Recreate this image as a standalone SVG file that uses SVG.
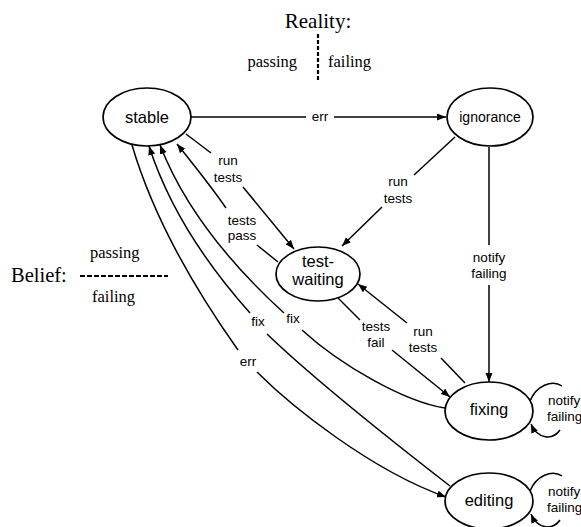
<svg xmlns="http://www.w3.org/2000/svg" width="581" height="527" viewBox="0 0 581 527">
<style>
.node ellipse{fill:#fff;stroke:#000;stroke-width:1.7}
.nl{font-family:"Liberation Sans",Arial,sans-serif;font-size:16.5px;text-anchor:middle;fill:#000}
.el{font-family:"Liberation Sans",Arial,sans-serif;font-size:13.5px;text-anchor:middle;fill:#000}
.sf{font-family:"Liberation Serif","Times New Roman",serif;fill:#000}
#connectors path{fill:none;stroke:#000;stroke-width:1.5}
.dash{stroke:#000;stroke-width:2.2;stroke-dasharray:4 2}
</style>
<defs>
<marker id="ah" markerUnits="userSpaceOnUse" markerWidth="10" markerHeight="8" refX="9" refY="3.5" orient="auto">
<path d="M0,0 L9,3.5 L0,7 z" fill="#000"/>
</marker>
</defs>
<rect width="581" height="527" fill="#fff"/>

<g id="legend">
<text class="sf" x="318" y="28" font-size="21" text-anchor="middle">Reality:</text>
<line class="dash" x1="318" y1="34" x2="318" y2="81"/>
<text class="sf" x="297" y="67" font-size="16.5" text-anchor="end">passing</text>
<text class="sf" x="328" y="67" font-size="16.5">failing</text>
<text class="sf" x="11" y="282" font-size="20.5">Belief:</text>
<line class="dash" x1="80" y1="276" x2="168" y2="276" style="stroke-dasharray:5 2"/>
<text class="sf" x="90" y="258" font-size="16.5">passing</text>
<text class="sf" x="92" y="302" font-size="16.5">failing</text>
</g>

<g id="connectors">
<!-- err: stable -> ignorance -->
<path d="M191,117 H306"/>
<path d="M334,117 H446" marker-end="url(#ah)"/>
<text class="el" x="320" y="121">err</text>
<!-- run tests: stable -> test-waiting -->
<path d="M186,134 L211,153"/>
<path d="M243,187 L294,249" marker-end="url(#ah)"/>
<text class="el" x="228" y="165">run</text>
<text class="el" x="228" y="182">tests</text>
<!-- tests pass: test-waiting -> stable -->
<path d="M278,262 L257,245"/>
<path d="M226,208 C210,185 194,165 177,144" marker-end="url(#ah)"/>
<text class="el" x="242" y="225">tests</text>
<text class="el" x="242" y="240">pass</text>
<!-- fix: fixing -> stable -->
<path d="M445,408 C405,402 340,365 302,330"/>
<path d="M284,313 Q193,230 160,145" marker-end="url(#ah)"/>
<text class="el" x="293" y="323">fix</text>
<!-- fix: editing -> stable -->
<path d="M450,486 C410,455 320,385 267,334"/>
<path d="M250,313 Q176,230 149,146" marker-end="url(#ah)"/>
<text class="el" x="258" y="326">fix</text>
<!-- err: stable -> editing -->
<path d="M132,145 Q160,240 238,350"/>
<path d="M257,372 C290,405 370,470 446,497" marker-end="url(#ah)"/>
<text class="el" x="248" y="366">err</text>
<!-- run tests: ignorance -> test-waiting -->
<path d="M455,137 L414,175"/>
<path d="M382,207 L342,246" marker-end="url(#ah)"/>
<text class="el" x="398" y="186">run</text>
<text class="el" x="398" y="203">tests</text>
<!-- notify failing: ignorance -> fixing -->
<path d="M489,147 V245"/>
<path d="M489,285 V382" marker-end="url(#ah)"/>
<text class="el" x="489" y="262">notify</text>
<text class="el" x="489" y="278">failing</text>
<!-- tests fail: test-waiting -> fixing -->
<path d="M338,298 L360,320"/>
<path d="M392,350 L450,397" marker-end="url(#ah)"/>
<text class="el" x="376" y="331">tests</text>
<text class="el" x="376" y="347">fail</text>
<!-- run tests: fixing -> test-waiting -->
<path d="M465,383 L441,358"/>
<path d="M407,323 L358,284" marker-end="url(#ah)"/>
<text class="el" x="423" y="336">run</text>
<text class="el" x="423" y="352">tests</text>
<!-- notify failing: fixing self loop -->
<path d="M530,401 C536,386 552,379 562,386"/>
<path d="M560,430 C553,440 538,440 531,424" marker-end="url(#ah)"/>
<text class="el" x="548" y="405" style="text-anchor:start">notify</text>
<text class="el" x="547" y="421" style="text-anchor:start">failing</text>
<!-- notify failing: editing self loop -->
<path d="M530,491 C536,476 552,469 562,476"/>
<path d="M560,520 C553,530 538,530 531,514" marker-end="url(#ah)"/>
<text class="el" x="548" y="496" style="text-anchor:start">notify</text>
<text class="el" x="547" y="512" style="text-anchor:start">failing</text>
</g>

<g id="stable" class="node">
<ellipse cx="147" cy="117" rx="44" ry="29"/>
<text class="nl" x="147" y="123">stable</text>
</g>
<g id="ignorance" class="node">
<ellipse cx="490" cy="117" rx="43" ry="29"/>
<text class="nl" x="490" y="122" style="font-size:14px">ignorance</text>
</g>
<g id="test-waiting" class="node">
<ellipse cx="318" cy="274" rx="42" ry="27"/>
<text class="nl" x="318" y="267">test-</text>
<text class="nl" x="318" y="285">waiting</text>
</g>
<g id="fixing" class="node">
<ellipse cx="489" cy="411" rx="44" ry="29"/>
<text class="nl" x="489" y="415">fixing</text>
</g>
<g id="editing" class="node">
<ellipse cx="489" cy="501" rx="44" ry="28"/>
<text class="nl" x="489" y="506">editing</text>
</g>
</svg>
